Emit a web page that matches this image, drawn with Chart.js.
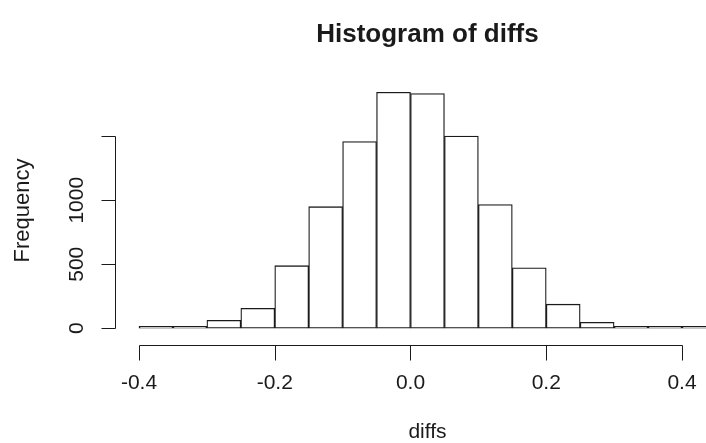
<!DOCTYPE html>
<html>
<head>
<meta charset="utf-8">
<title>Histogram of diffs</title>
<script src="https://cdn.jsdelivr.net/npm/chart.js@4"></script>
<style>
  body { margin: 0; background: #fff; }
  canvas { display: block; }
</style>
</head>
<body>
<canvas id="grafica" width="706" height="443"></canvas>
<script>
// bins of width 0.05, left edges
const binStarts = [-0.40, -0.35, -0.30, -0.25, -0.20, -0.15, -0.10, -0.05,
                   0.00, 0.05, 0.10, 0.15, 0.20, 0.25, 0.30, 0.35, 0.40];
const counts = [6, 14, 62, 156, 489, 950, 1458, 1844,
                1833, 1502, 966, 473, 188, 47, 10, 2, 1];
const binWidth = 0.05;

const xTicks = [-0.4, -0.2, 0.0, 0.2, 0.4];
const xTickLabels = ["-0.4", "-0.2", "0.0", "0.2", "0.4"];
const yTicks = [0, 500, 1000, 1500];
const yTickLabels = ["0", "500", "1000", ""]; // R drops the 1500 label

const titulo = "Histogram of diffs";
const xTitulo = "diffs";
const yTitulo = "Frequency";

const puntos = binStarts.map((b, i) => ({ x: b + binWidth / 2, y: counts[i] }));

const ink = "#1a1a1a";
const fuente = '"Liberation Sans", Arial, sans-serif';

const ejesR = {
  id: "ejesR",
  afterDraw(chart) {
    const ctx = chart.ctx;
    const xs = chart.scales.x, ys = chart.scales.y;
    const area = chart.chartArea;
    ctx.save();
    ctx.strokeStyle = ink;
    ctx.fillStyle = ink;
    ctx.lineWidth = 1;

    // x axis, below the plot like R
    const yEje = 345.5;
    const x0 = Math.round(xs.getPixelForValue(xTicks[0])) + 0.5;
    const x1 = Math.round(xs.getPixelForValue(xTicks[xTicks.length - 1])) + 0.5;
    ctx.beginPath();
    ctx.moveTo(x0, yEje); ctx.lineTo(x1, yEje);
    xTicks.forEach(t => {
      const px = Math.round(xs.getPixelForValue(t)) + 0.5;
      ctx.moveTo(px, yEje); ctx.lineTo(px, yEje + 15);
    });
    ctx.stroke();
    ctx.font = "21px " + fuente;
    ctx.textAlign = "center";
    ctx.textBaseline = "alphabetic";
    xTicks.forEach((t, i) => {
      ctx.fillText(xTickLabels[i], xs.getPixelForValue(t), 389);
    });

    // y axis, left of the plot
    const xEje = 115.5;
    const yA = Math.round(ys.getPixelForValue(yTicks[0])) + 0.5;
    const yB = Math.round(ys.getPixelForValue(yTicks[yTicks.length - 1])) + 0.5;
    ctx.beginPath();
    ctx.moveTo(xEje, yA); ctx.lineTo(xEje, yB);
    yTicks.forEach(t => {
      const py = Math.round(ys.getPixelForValue(t)) + 0.5;
      ctx.moveTo(xEje, py); ctx.lineTo(xEje - 14, py);
    });
    ctx.stroke();
    yTicks.forEach((t, i) => {
      if (!yTickLabels[i]) return;
      ctx.save();
      ctx.translate(83, ys.getPixelForValue(t));
      ctx.rotate(-Math.PI / 2);
      ctx.fillText(yTickLabels[i], 0, 0);
      ctx.restore();
    });

    // axis titles
    const centroX = (xs.getPixelForValue(-0.434) + xs.getPixelForValue(0.484)) / 2;
    ctx.fillText(xTitulo, centroX, 438);
    ctx.save();
    ctx.font = "22px " + fuente;
    ctx.translate(29, (area.top + area.bottom) / 2);
    ctx.rotate(-Math.PI / 2);
    ctx.fillText(yTitulo, 0, 0);
    ctx.restore();

    // main title
    ctx.font = "bold 26px " + fuente;
    ctx.fillText(titulo, centroX, 42);
    ctx.restore();
  }
};

new Chart(document.getElementById("grafica"), {
  type: "bar",
  data: {
    datasets: [{
      data: puntos,
      backgroundColor: "#ffffff",
      borderColor: ink,
      borderWidth: 1.3,
      borderSkipped: false,
      minBarLength: 2,
      barPercentage: 1,
      categoryPercentage: 1
    }]
  },
  options: {
    responsive: false,
    animation: false,
    layout: { padding: { left: 116, right: 0, top: 83, bottom: 105 } },
    plugins: { legend: { display: false }, tooltip: { enabled: false } },
    scales: {
      x: { type: "linear", offset: false, min: -0.4339, max: 0.4354, display: false },
      y: { type: "linear", min: -76, max: 1916, display: false }
    }
  },
  plugins: [ejesR]
});
</script>
</body>
</html>
